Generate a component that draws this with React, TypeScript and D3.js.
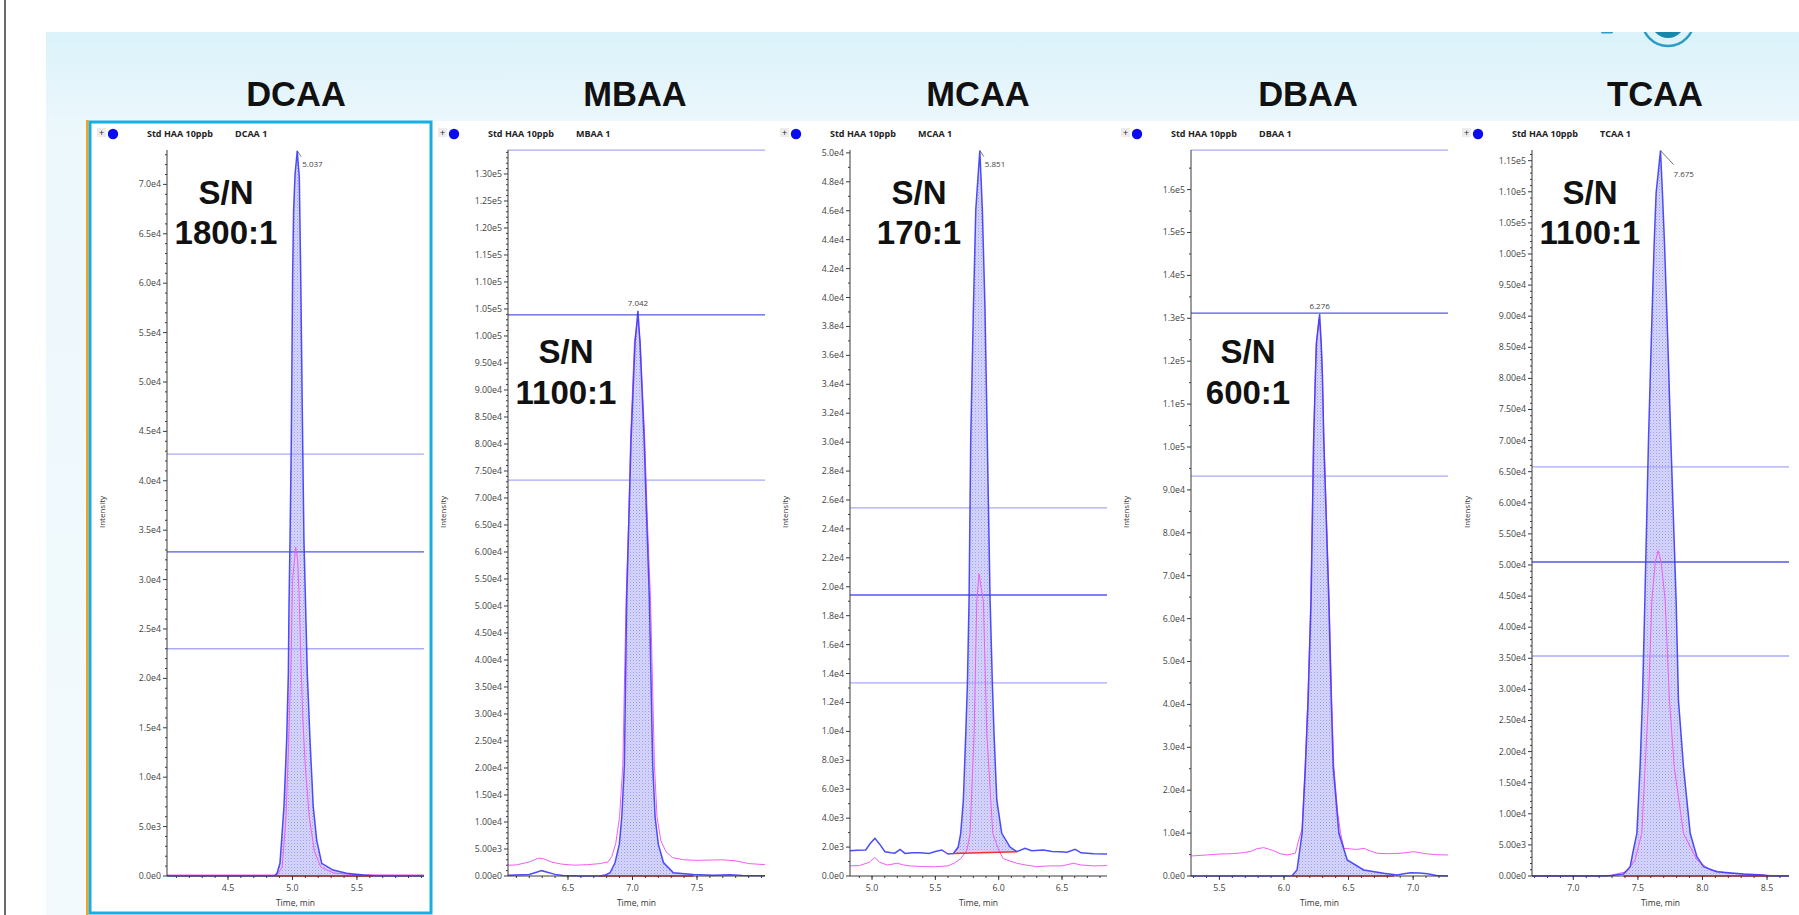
import React from 'react';
import * as d3 from 'd3';

// ---------------- DATA ----------------
const compounds = ['DCAA', 'MBAA', 'MCAA', 'DBAA', 'TCAA'];
const sampleName = 'Std HAA 10ppb';
const traceNames = ['DCAA 1', 'MBAA 1', 'MCAA 1', 'DBAA 1', 'TCAA 1'];
const snRatios = ['1800:1', '1100:1', '170:1', '600:1', '1100:1'];
const apexTimes = [5.037, 7.042, 5.851, 6.276, 7.675];
const apexLabels = ['5.037', '7.042', '5.851', '6.276', '7.675'];
const timeDomains = [[4.027, 6.02], [6.035, 8.027], [4.826, 6.855], [5.28, 7.27], [6.68, 8.67]];
const intensityMax = [73480, 134440, 50200, 169230, 116720];
const yTickStep = [5000, 5000, 2000, 10000, 5000];
const yTickMax = [70000, 130000, 50000, 160000, 115000];
const yTickDecimals = [1, 2, 1, 1, 2];
const yMinorDiv = [5, 5, 2, 2, 5];
const xTicks = [[4.5, 5.0, 5.5], [6.5, 7.0, 7.5], [5.0, 5.5, 6.0, 6.5], [5.5, 6.0, 6.5, 7.0], [7.0, 7.5, 8.0, 8.5]];
const markerLevels = [
  [42700, 32800, 23000],
  [134400, 103900, 73300],
  [25450, 19430, 13350],
  [169200, 131200, 93200],
  [65760, 50480, 35370],
];
const baselineStart = [[4.864, 0], [6.748, 0], [5.642, 1560], [6.062, 0], [7.388, 0]];
const baselineEnd = [[5.625, 0], [7.472, 0], [6.143, 1680], [6.852, 0], [8.5, 0]];

const dcaaBlue = [[4.027,0],[4.86,0],[4.88,270],[4.903,1285],[4.916,3640],[4.934,7020],[4.955,13770],[4.968,20510],[4.973,27260],[4.981,34000],[4.991,44130],[5.001,60660],[5.009,67400],[5.02,71000],[5.037,73400],[5.045,72000],[5.053,70780],[5.064,60660],[5.079,44130],[5.089,34000],[5.102,27260],[5.115,20510],[5.136,13770],[5.161,7020],[5.188,3640],[5.227,1285],[5.315,600],[5.42,270],[5.55,100],[5.65,0],[6.02,0]];
const dcaaPink = [[4.027,100],[4.88,100],[4.92,900],[4.95,6000],[4.97,13400],[4.99,22000],[5.0,29900],[5.012,31500],[5.025,33300],[5.04,32000],[5.05,29000],[5.065,22000],[5.08,16000],[5.1,11000],[5.13,6000],[5.17,2500],[5.22,900],[5.32,300],[5.5,120],[6.02,100]];

const mbaaBlue = [[6.035,150],[6.2,300],[6.25,650],[6.296,990],[6.34,700],[6.4,300],[6.46,100],[6.6,0],[6.748,0],[6.79,200],[6.826,600],[6.865,2500],[6.898,5900],[6.917,11000],[6.937,20500],[6.955,51200],[6.972,66000],[6.989,80860],[7.02,98800],[7.042,104660],[7.058,98800],[7.09,80860],[7.11,66000],[7.131,51200],[7.157,20500],[7.175,11000],[7.2,5900],[7.24,2500],[7.317,600],[7.47,300],[7.625,150],[7.756,240],[7.85,100],[8.027,50]];
const mbaaPink = [[6.035,2000],[6.1,2050],[6.2,2600],[6.27,3300],[6.31,3200],[6.37,2600],[6.45,2200],[6.55,2000],[6.65,2100],[6.75,2300],[6.81,2600],[6.84,3600],[6.87,6000],[6.9,11000],[6.925,20500],[6.95,51000],[6.97,66000],[6.985,81000],[7.015,99000],[7.04,103000],[7.06,99000],[7.095,81000],[7.115,66000],[7.14,51000],[7.17,20500],[7.19,11000],[7.22,6500],[7.26,4500],[7.31,3400],[7.4,3000],[7.5,2900],[7.6,2950],[7.7,3000],[7.8,2800],[7.9,2300],[8.027,2100]];

const mcaaBlue = [[4.826,1750],[4.88,1780],[4.95,1800],[4.99,2300],[5.023,2600],[5.06,2200],[5.102,1680],[5.15,1600],[5.18,1580],[5.221,1840],[5.26,1560],[5.32,1600],[5.379,1600],[5.45,1560],[5.5,1700],[5.55,1800],[5.6,1520],[5.642,1560],[5.68,2000],[5.7,2950],[5.721,5260],[5.74,9870],[5.753,13330],[5.766,19090],[5.779,30150],[5.8,39140],[5.819,46060],[5.851,50160],[5.871,46060],[5.892,39140],[5.91,30150],[5.932,19090],[5.95,13330],[5.963,9870],[5.985,5260],[6.024,2950],[6.09,2000],[6.143,1683],[6.208,1913],[6.26,1750],[6.353,1800],[6.42,1700],[6.485,1683],[6.54,1650],[6.603,1844],[6.65,1600],[6.75,1540],[6.855,1521]];
const mcaaPink = [[4.826,700],[4.9,720],[4.98,950],[5.02,1290],[5.06,950],[5.12,760],[5.2,880],[5.25,760],[5.3,700],[5.4,650],[5.5,640],[5.6,700],[5.65,900],[5.7,1200],[5.75,1800],[5.774,2950],[5.806,9870],[5.827,19000],[5.845,20900],[5.86,20000],[5.879,19000],[5.906,9870],[5.953,2950],[6.0,1800],[6.035,1200],[6.143,880],[6.2,780],[6.3,645],[6.4,700],[6.5,700],[6.59,880],[6.65,760],[6.75,700],[6.855,720]];

const dbaaBlue = [[5.28,0],[6.03,0],[6.062,50],[6.101,1400],[6.14,9950],[6.166,25500],[6.187,41000],[6.21,64340],[6.23,101630],[6.243,116400],[6.251,124200],[6.276,131000],[6.288,124200],[6.298,116400],[6.308,101630],[6.347,64340],[6.366,41000],[6.381,25500],[6.425,9950],[6.49,3730],[6.617,1400],[6.772,620],[6.878,233],[6.93,500],[6.98,780],[7.05,700],[7.11,500],[7.18,100],[7.27,0]];
const dbaaPink = [[5.28,4660],[5.4,4900],[5.505,5130],[5.6,5200],[5.686,5440],[5.75,5800],[5.79,6370],[5.842,6600],[5.88,6300],[5.92,5900],[5.97,5200],[6.024,4900],[6.088,5290],[6.114,8400],[6.14,11000],[6.163,25500],[6.184,41000],[6.207,64340],[6.228,101630],[6.25,124000],[6.272,130000],[6.29,124000],[6.31,101630],[6.35,64340],[6.37,41000],[6.386,25500],[6.415,15000],[6.438,9950],[6.464,6450],[6.52,6300],[6.568,6200],[6.619,6450],[6.67,5800],[6.723,5290],[6.8,5200],[6.904,5300],[7.007,5670],[7.11,5130],[7.2,4950],[7.27,4900]];

const tcaaBlue = [[6.68,0],[7.25,0],[7.3,80],[7.388,320],[7.44,1500],[7.465,4180],[7.492,6860],[7.517,17580],[7.535,28300],[7.554,44380],[7.582,70100],[7.603,85660],[7.626,101740],[7.641,109800],[7.675,116630],[7.69,109800],[7.706,101740],[7.732,85660],[7.755,70100],[7.796,44380],[7.814,28300],[7.853,17580],[7.905,6860],[7.957,3110],[8.008,1500],[8.11,700],[8.318,320],[8.47,160],[8.52,0],[8.67,0]];
const tcaaPink = [[6.68,50],[7.2,50],[7.285,100],[7.414,700],[7.478,2573],[7.53,6860],[7.556,17580],[7.582,28300],[7.608,44380],[7.635,50500],[7.657,52300],[7.68,50500],[7.711,44380],[7.744,28300],[7.781,17580],[7.853,6860],[7.957,2573],[8.06,965],[8.2,450],[8.4,200],[8.55,80],[8.67,50]];

const blueTraces = [dcaaBlue, mbaaBlue, mcaaBlue, dbaaBlue, tcaaBlue];
const pinkTraces = [dcaaPink, mbaaPink, mcaaPink, dbaaPink, tcaaPink];

// ---------------- LAYOUT ----------------
const W = 1799;
const H = 915;
const plotLeft = [167, 508, 850, 1191, 1532];
const plotWidth = 257;
const plotTop = 150;
const plotBottom = 876;
const titleX = [296, 635, 978, 1308, 1655];
const snX = [226, 566, 919, 1248, 1590];
const snBaseline = [[204, 244], [363, 404], [204, 244], [363, 404], [204, 244]];
const apexMode = ['leader', 'above', 'leader', 'above', 'longleader'];

const SMALL = "'Open Sans', 'Noto Sans', 'DejaVu Sans', sans-serif";
const BIG = "'Liberation Sans', Arial, sans-serif";

function fmtSci(v: number, d: number) {
  if (v === 0) return (0).toFixed(d) + 'e0';
  const e = Math.floor(Math.log10(v) + 1e-9);
  const m = v / Math.pow(10, e);
  return m.toFixed(d) + 'e' + e;
}

function Panel({ i }: { i: number }) {
  const x0 = plotLeft[i];
  const x1 = x0 + plotWidth;
  const xs = d3.scaleLinear().domain(timeDomains[i]).range([x0, x1]);
  const ys = d3.scaleLinear().domain([0, intensityMax[i]]).range([plotBottom, plotTop]);
  const line = d3.line<number[]>().x((d) => xs(d[0])).y((d) => ys(d[1]));
  const bs = baselineStart[i];
  const be = baselineEnd[i];
  const baseAt = (t: number) => bs[1] + ((be[1] - bs[1]) * (t - bs[0])) / (be[0] - bs[0]);
  const area = d3
    .area<number[]>()
    .x((d) => xs(d[0]))
    .y0((d) => ys(baseAt(d[0])))
    .y1((d) => ys(Math.max(d[1], baseAt(d[0]))));

  const step = yTickStep[i];
  const majors = d3.range(0, yTickMax[i] + step / 2, step);
  const minorStep = step / yMinorDiv[i];
  const minors = d3
    .range(0, intensityMax[i], minorStep)
    .filter((v) => Math.abs(v / step - Math.round(v / step)) > 1e-6);
  const [t0, t1] = timeDomains[i];
  const xMinors = d3
    .range(Math.ceil(t0 * 10), Math.floor(t1 * 10) + 1)
    .map((k) => k / 10);

  const apexX = xs(apexTimes[i]);
  const apexV = d3.max(blueTraces[i], (d) => d[1]) as number;
  const apexY = ys(apexV);
  const headerY = 137;
  const axisColor = '#3a3a3a';

  return (
    <g>
      <defs>
        <clipPath id={`plot-${i}`}>
          <rect x={x0} y={plotTop - 2} width={plotWidth} height={plotBottom - plotTop + 3} />
        </clipPath>
        <clipPath id={`fill-${i}`}>
          <rect x={xs(bs[0])} y={plotTop - 2} width={xs(be[0]) - xs(bs[0])} height={plotBottom - plotTop + 3} />
        </clipPath>
      </defs>

      {/* header */}
      <rect x={x0 - 70} y={headerY - 9} width={9} height={9} fill="#ececec" />
      <text x={x0 - 65.5} y={headerY - 1.5} fontSize={9} fontFamily={SMALL} textAnchor="middle" fill="#222">+</text>
      <circle cx={x0 - 54} cy={headerY - 3} r={5.2} fill="#0b0bf0" />
      <text x={x0 - 20} y={headerY} fontSize={9} fontWeight={700} fontFamily={SMALL} fill="#222">{sampleName}</text>
      <text x={x0 + 68} y={headerY} fontSize={9} fontWeight={700} fontFamily={SMALL} fill="#222">{traceNames[i]}</text>

      {/* fill */}
      <g clipPath={`url(#fill-${i})`}>
        <path d={area(blueTraces[i]) || ''} fill="url(#hatch)" />
      </g>

      {/* marker lines */}
      {markerLevels[i].map((v, k) => (
        <line
          key={k}
          x1={x0}
          x2={x1}
          y1={ys(v)}
          y2={ys(v)}
          stroke={k === 1 ? '#5656ee' : '#a9a9f6'}
          strokeWidth={1.3}
        />
      ))}

      {/* traces */}
      <g clipPath={`url(#plot-${i})`}>
        <path d={line(pinkTraces[i]) || ''} fill="none" stroke="#f25cf2" strokeWidth={1} />
        <path d={line(blueTraces[i]) || ''} fill="none" stroke="#3a3afa" strokeWidth={1.5} strokeOpacity={0.9} />
      </g>
      <line x1={xs(bs[0])} x2={xs(be[0])} y1={ys(bs[1])} y2={ys(be[1])} stroke="#f23030" strokeWidth={1.6} />

      {/* y axis */}
      <line x1={x0} x2={x0} y1={plotTop} y2={plotBottom} stroke={axisColor} strokeWidth={1} />
      {minors.map((v) => (
        <line key={'m' + v} x1={x0 - 2} x2={x0} y1={ys(v)} y2={ys(v)} stroke={axisColor} strokeWidth={1} />
      ))}
      {majors.map((v) => (
        <g key={'M' + v}>
          <line x1={x0 - 4} x2={x0} y1={ys(v)} y2={ys(v)} stroke={axisColor} strokeWidth={1} />
          <text x={x0 - 6} y={ys(v) + 3} fontSize={8.8} fontFamily={SMALL} textAnchor="end" fill="#444">
            {fmtSci(v, yTickDecimals[i])}
          </text>
        </g>
      ))}
      <text
        transform={`translate(${x0 - 62},${512}) rotate(-90)`}
        fontSize={8}
        fontFamily={SMALL}
        textAnchor="middle"
        fill="#333"
      >
        Intensity
      </text>

      {/* x axis */}
      <line x1={x0} x2={x1} y1={plotBottom} y2={plotBottom} stroke={axisColor} strokeWidth={1} />
      {xMinors.map((t) => (
        <line key={'xm' + t} x1={xs(t)} x2={xs(t)} y1={plotBottom} y2={plotBottom + 2} stroke={axisColor} strokeWidth={1} />
      ))}
      {xTicks[i].map((t) => (
        <g key={'xt' + t}>
          <line x1={xs(t)} x2={xs(t)} y1={plotBottom} y2={plotBottom + 4} stroke={axisColor} strokeWidth={1} />
          <text x={xs(t)} y={plotBottom + 15} fontSize={8.8} fontFamily={SMALL} textAnchor="middle" fill="#444">
            {t.toFixed(1)}
          </text>
        </g>
      ))}
      <text x={(x0 + x1) / 2} y={906} fontSize={8.5} fontFamily={SMALL} textAnchor="middle" fill="#333">
        Time, min
      </text>

      {/* apex label */}
      {apexMode[i] === 'above' && (
        <text x={apexX} y={apexY - 5} fontSize={8} fontFamily={SMALL} textAnchor="middle" fill="#444">
          {apexLabels[i]}
        </text>
      )}
      {apexMode[i] === 'leader' && (
        <g>
          <line x1={apexX} y1={apexY} x2={apexX + 4} y2={apexY + 6} stroke="#555" strokeWidth={0.8} />
          <text x={apexX + 5} y={apexY + 16} fontSize={8} fontFamily={SMALL} fill="#444">
            {apexLabels[i]}
          </text>
        </g>
      )}
      {apexMode[i] === 'longleader' && (
        <g>
          <line x1={apexX} y1={apexY} x2={apexX + 13} y2={apexY + 14} stroke="#555" strokeWidth={0.8} />
          <text x={apexX + 13} y={apexY + 26} fontSize={8} fontFamily={SMALL} fill="#444">
            {apexLabels[i]}
          </text>
        </g>
      )}

      {/* S/N annotation */}
      <text x={snX[i]} y={snBaseline[i][0]} fontSize={33} fontWeight={700} fontFamily={BIG} textAnchor="middle" fill="#111">
        S/N
      </text>
      <text x={snX[i]} y={snBaseline[i][1]} fontSize={33} fontWeight={700} fontFamily={BIG} textAnchor="middle" fill="#111">
        {snRatios[i]}
      </text>

      {/* compound title */}
      <text x={titleX[i]} y={106} fontSize={34.5} fontWeight={700} fontFamily={BIG} textAnchor="middle" fill="#111">
        {compounds[i]}
      </text>
    </g>
  );
}

export default function App() {
  return (
    <svg
      width={W}
      height={H}
      viewBox={`0 0 ${W} ${H}`}
      style={{ position: 'absolute', left: 0, top: 0, display: 'block' }}
    >
      <defs>
        <linearGradient id="bg" x1="0" y1="0" x2="0" y2="1">
          <stop offset="0" stopColor="#dbf2fa" />
          <stop offset="0.12" stopColor="#edf8fc" />
          <stop offset="1" stopColor="#f3fafd" />
        </linearGradient>
        <pattern id="hatch" patternUnits="userSpaceOnUse" width={3} height={3}>
          <rect width={3} height={3} fill="#d6d6fa" />
          <rect width={1} height={1} fill="#9c9cf0" />
          <rect x={1.5} y={1.5} width={1} height={1} fill="#b6b6f5" />
        </pattern>
        <clipPath id="logoClip">
          <rect x={1550} y={32} width={249} height={60} />
        </clipPath>
      </defs>
      <rect width={W} height={H} fill="#ffffff" />
      <rect x={4} y={0} width={2} height={H} fill="#6a6a6a" />
      <rect x={46} y={32} width={W - 46} height={H - 32} fill="url(#bg)" />

      {/* logo fragment */}
      <g clipPath="url(#logoClip)">
        <circle cx={1668} cy={20} r={26} fill="none" stroke="#2b9cc4" strokeWidth={2.5} />
        <circle cx={1668} cy={21} r={17} fill="#1787ab" />
        <rect x={1601} y={30} width={12} height={3.5} rx={1.5} fill="#2b9cc4" />
      </g>

      {/* panel area */}
      <rect x={89} y={121} width={W - 89} height={H - 121} fill="#ffffff" />
      <rect x={86} y={120} width={2.5} height={H - 120} fill="#f5a21c" />
      <rect x={90} y={122} width={341} height={791} fill="none" stroke="#18aee0" strokeWidth={3} />

      {compounds.map((c, i) => (
        <Panel key={c} i={i} />
      ))}
    </svg>
  );
}
